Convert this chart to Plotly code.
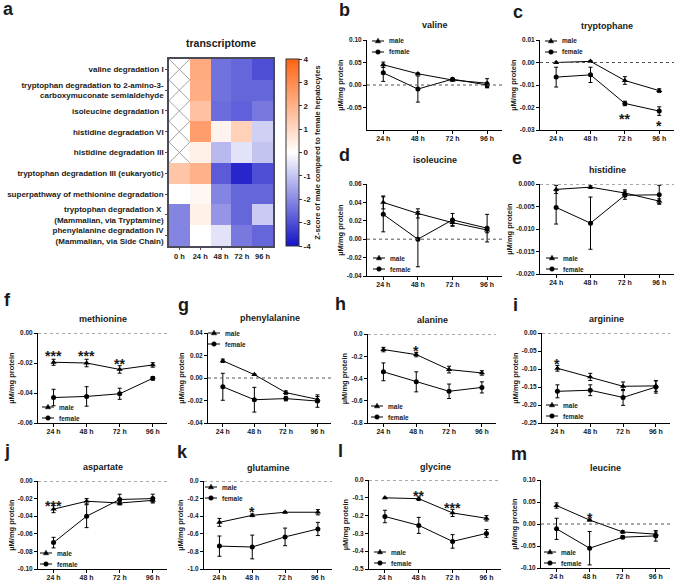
import plotly.graph_objects as go

W, H = 676, 580

# ---------------- data ----------------
time_labels = ["24 h", "48 h", "72 h", "96 h"]

heat_times = ["0 h", "24 h", "48 h", "72 h", "96 h"]
heat_pathways = [
    "valine degradation I",
    "tryptophan degradation to 2-amino-3-<br>carboxymuconate semialdehyde",
    "isoleucine degradation I",
    "histidine degradation VI",
    "histidine degradation III",
    "tryptophan degradation III (eukaryotic)",
    "superpathway of methionine degradation",
    "tryptophan degradation X <br>(Mammalian, via Tryptamine)",
    "phenylalanine degradation IV<br>(Mammalian, via Side Chain)",
]
heat_z = [
    [None, 2.2, -2.4, -2.6, -3.0],
    [None, 2.1, -2.4, -2.6, -2.6],
    [None, 1.6, -2.5, -2.7, -2.3],
    [None, 2.5, 0.3, 1.2, -0.8],
    [None, 0.4, -1.2, -0.5, -1.0],
    [1.5, 2.0, -2.8, -3.7, -3.0],
    [0.0, 0.2, -2.1, -2.6, -2.6],
    [-2.1, 0.4, -1.8, -2.6, -0.9],
    [-2.1, 0.0, -0.5, -2.3, -2.6],
]
heat_ticks = [-4, -3, -2, -1, 0, 1, 2, 3, 4]

valine_male = [0.045, 0.025, 0.011, 0.004]
valine_male_sd = [0.006, 0.002, 0.002, 0.010]
valine_female = [0.027, -0.009, 0.013, 0.000]
valine_female_sd = [0.019, 0.029, 0.002, 0.006]
valine_ticks = [-0.05, 0.00, 0.05, 0.10]
valine_stars = []

tryptophane_male = [0.0000, 0.0005, -0.0080, -0.0125]
tryptophane_male_sd = [0.0002, 0.0003, 0.0017, 0.0008]
tryptophane_female = [-0.0065, -0.0055, -0.0182, -0.0216]
tryptophane_female_sd = [0.0044, 0.0034, 0.0010, 0.0019]
tryptophane_ticks = [-0.03, -0.02, -0.01, 0.00, 0.01]
tryptophane_stars = [("**", 2, -0.0236), ("*", 3, -0.0270)]

isoleucine_male = [0.040, 0.028, 0.018, 0.010]
isoleucine_male_sd = [0.007, 0.005, 0.003, 0.003]
isoleucine_female = [0.027, 0.000, 0.021, 0.012]
isoleucine_female_sd = [0.019, 0.030, 0.007, 0.015]
isoleucine_ticks = [-0.04, -0.02, 0.00, 0.02, 0.04, 0.06]
isoleucine_stars = []

histidine_male = [-0.0012, -0.0007, -0.0020, -0.0038]
histidine_male_sd = [0.0009, 0.0003, 0.0007, 0.0005]
histidine_female = [-0.0052, -0.0087, -0.0025, -0.0024]
histidine_female_sd = [0.0037, 0.0058, 0.0009, 0.0021]
histidine_ticks = [-0.020, -0.015, -0.010, -0.005, 0.000]
histidine_stars = []

methionine_male = [-0.0195, -0.0200, -0.0243, -0.0213]
methionine_male_sd = [0.0020, 0.0025, 0.0025, 0.0015]
methionine_female = [-0.0430, -0.0423, -0.0405, -0.0302]
methionine_female_sd = [0.0055, 0.0065, 0.0037, 0.0012]
methionine_ticks = [-0.06, -0.04, -0.02, 0.00]
methionine_stars = [("***", 0, -0.0133), ("***", 1, -0.0133), ("**", 2, -0.0187)]

phenylalanine_male = [0.0153, 0.0030, -0.0130, -0.0190]
phenylalanine_male_sd = [0.0015, 0.0005, 0.0015, 0.0025]
phenylalanine_female = [-0.0078, -0.0193, -0.0183, -0.0205]
phenylalanine_female_sd = [0.0120, 0.0110, 0.0020, 0.0055]
phenylalanine_ticks = [-0.04, -0.02, 0.00, 0.02, 0.04]
phenylalanine_stars = []

alanine_male = [-0.140, -0.185, -0.320, -0.350]
alanine_male_sd = [0.020, 0.020, 0.030, 0.020]
alanine_female = [-0.340, -0.430, -0.515, -0.480]
alanine_female_sd = [0.080, 0.090, 0.065, 0.050]
alanine_ticks = [-0.8, -0.6, -0.4, -0.2, 0.0]
alanine_stars = [("*", 1, -0.129)]

arginine_male = [-0.098, -0.122, -0.148, -0.147]
arginine_male_sd = [0.008, 0.010, 0.012, 0.015]
arginine_female = [-0.162, -0.159, -0.179, -0.150]
arginine_female_sd = [0.018, 0.015, 0.022, 0.017]
arginine_ticks = [-0.25, -0.20, -0.15, -0.10, -0.05, 0.00]
arginine_stars = [("*", 0, -0.077)]

aspartate_male = [-0.032, -0.023, -0.025, -0.022]
aspartate_male_sd = [0.004, 0.003, 0.002, 0.002]
aspartate_female = [-0.070, -0.040, -0.021, -0.020]
aspartate_female_sd = [0.006, 0.013, 0.006, 0.005]
aspartate_ticks = [-0.10, -0.08, -0.06, -0.04, -0.02, 0.00]
aspartate_stars = [("***", 0, -0.0247)]

glutamine_male = [-0.470, -0.390, -0.355, -0.355]
glutamine_male_sd = [0.045, 0.015, 0.010, 0.030]
glutamine_female = [-0.740, -0.750, -0.635, -0.545]
glutamine_female_sd = [0.115, 0.135, 0.100, 0.075]
glutamine_ticks = [-1.0, -0.8, -0.6, -0.4, -0.2, 0.0]
glutamine_stars = [("*", 1, -0.320)]

glycine_male = [-0.100, -0.105, -0.185, -0.215]
glycine_male_sd = [0.003, 0.010, 0.020, 0.015]
glycine_female = [-0.205, -0.255, -0.345, -0.300]
glycine_female_sd = [0.035, 0.045, 0.038, 0.022]
glycine_ticks = [-0.5, -0.4, -0.3, -0.2, -0.1, 0.0]
glycine_stars = [("**", 1, -0.074), ("***", 2, -0.139)]

leucine_male = [0.042, 0.009, -0.018, -0.023]
leucine_male_sd = [0.006, 0.002, 0.003, 0.005]
leucine_female = [-0.011, -0.055, -0.030, -0.027]
leucine_female_sd = [0.024, 0.038, 0.003, 0.012]
leucine_ticks = [-0.10, -0.05, 0.00, 0.05, 0.10]
leucine_stars = [("*", 1, 0.021)]

# ---------------- layout helpers ----------------
FONT = "Liberation Sans, Arial, Helvetica, sans-serif"
TXT = "#1a1a1a"


def X(px):
    return px / W


def Y(py):
    return 1 - py / H


def fmt(v, d):
    s = f"{v:.{d}f}"
    if s.startswith("-") and float(s) == 0:
        s = s[1:]
    return s


# panel: letter, title, data, ticks, stars, decimals, range, box(x0,x1,ytop,ybot), title y, letter pos, legend pos
panels = [
    dict(letter="b", title="valine", m=valine_male, msd=valine_male_sd, f=valine_female, fsd=valine_female_sd,
         ticks=valine_ticks, stars=valine_stars, dec=2, rng=[-0.10, 0.10], box=(367, 502, 40, 130),
         ty=25, lp=(344, 10), leg=(372, 41)),
    dict(letter="c", title="tryptophane", m=tryptophane_male, msd=tryptophane_male_sd, f=tryptophane_female,
         fsd=tryptophane_female_sd, ticks=tryptophane_ticks, stars=tryptophane_stars, dec=2, rng=[-0.03, 0.01],
         box=(540, 674, 40, 130), ty=26, lp=(518, 12), leg=(545, 41)),
    dict(letter="d", title="isoleucine", m=isoleucine_male, msd=isoleucine_male_sd, f=isoleucine_female,
         fsd=isoleucine_female_sd, ticks=isoleucine_ticks, stars=isoleucine_stars, dec=2, rng=[-0.04, 0.06],
         box=(367, 502, 184, 276), ty=160, lp=(344, 155), leg=(373, 258)),
    dict(letter="e", title="histidine", m=histidine_male, msd=histidine_male_sd, f=histidine_female,
         fsd=histidine_female_sd, ticks=histidine_ticks, stars=histidine_stars, dec=3, rng=[-0.020, 0.000],
         box=(540, 674, 184, 274), ty=170, lp=(517, 158), leg=(546, 258)),
    dict(letter="f", title="methionine", m=methionine_male, msd=methionine_male_sd, f=methionine_female,
         fsd=methionine_female_sd, ticks=methionine_ticks, stars=methionine_stars, dec=2, rng=[-0.06, 0.00],
         box=(38, 167, 333, 423), ty=319, lp=(7, 300), leg=(42, 407)),
    dict(letter="g", title="phenylalanine", m=phenylalanine_male, msd=phenylalanine_male_sd, f=phenylalanine_female,
         fsd=phenylalanine_female_sd, ticks=phenylalanine_ticks, stars=phenylalanine_stars, dec=2,
         rng=[-0.04, 0.04], box=(208, 331, 333, 423), ty=318, lp=(183, 305), leg=(208, 333)),
    dict(letter="h", title="alanine", m=alanine_male, msd=alanine_male_sd, f=alanine_female, fsd=alanine_female_sd,
         ticks=alanine_ticks, stars=alanine_stars, dec=1, rng=[-0.8, 0.0], box=(368, 496, 334, 423),
         ty=320, lp=(340, 304), leg=(371, 406)),
    dict(letter="i", title="arginine", m=arginine_male, msd=arginine_male_sd, f=arginine_female,
         fsd=arginine_female_sd, ticks=arginine_ticks, stars=arginine_stars, dec=2, rng=[-0.25, 0.00],
         box=(542, 670, 333, 423), ty=319, lp=(515, 305), leg=(546, 405)),
    dict(letter="j", title="aspartate", m=aspartate_male, msd=aspartate_male_sd, f=aspartate_female,
         fsd=aspartate_female_sd, ticks=aspartate_ticks, stars=aspartate_stars, dec=2, rng=[-0.10, 0.00],
         box=(38, 167, 481, 569), ty=467, lp=(7, 451), leg=(40, 553)),
    dict(letter="k", title="glutamine", m=glutamine_male, msd=glutamine_male_sd, f=glutamine_female,
         fsd=glutamine_female_sd, ticks=glutamine_ticks, stars=glutamine_stars, dec=1, rng=[-1.0, 0.0],
         box=(204, 332, 481, 569), ty=468, lp=(182, 452), leg=(205, 487)),
    dict(letter="l", title="glycine", m=glycine_male, msd=glycine_male_sd, f=glycine_female, fsd=glycine_female_sd,
         ticks=glycine_ticks, stars=glycine_stars, dec=1, rng=[-0.5, 0.0], box=(369, 501, 480, 569),
         ty=467, lp=(340, 451), leg=(374, 552)),
    dict(letter="m", title="leucine", m=leucine_male, msd=leucine_male_sd, f=leucine_female, fsd=leucine_female_sd,
         ticks=leucine_ticks, stars=leucine_stars, dec=2, rng=[-0.10, 0.10], box=(541, 670, 480, 568),
         ty=468, lp=(519, 454), leg=(544, 552)),
]

fig = go.Figure()

# ---------------- heatmap (panel a) ----------------
fig.add_trace(go.Heatmap(
    z=heat_z, x=list(range(len(heat_times))), y=list(range(len(heat_pathways))),
    colorscale=[[0, "rgb(20,20,200)"], [0.5, "rgb(255,255,255)"], [1, "rgb(255,100,20)"]],
    zmin=-4, zmax=4, hoverongaps=False, xaxis="x", yaxis="y",
    colorbar=dict(
        x=X(286), xanchor="left", y=Y(59), yanchor="top", len=187 / H, lenmode="fraction",
        thickness=13, xpad=0, ypad=0, outlinewidth=1, outlinecolor="#333",
        tickvals=heat_ticks, ticktext=[str(t) for t in heat_ticks], ticks="outside", ticklen=3,
        tickcolor="#333", tickfont=dict(size=8, color=TXT),
        title=dict(text="Z-score of male compared to female hepatocytes", side="right",
                   font=dict(size=7.5, color=TXT)),
    ),
))
cx, cy = [], []
for r, row in enumerate(heat_z):
    for c, v in enumerate(row):
        if v is None:
            cx += [c - 0.5, c + 0.5, None, c - 0.5, c + 0.5, None]
            cy += [r - 0.5, r + 0.5, None, r + 0.5, r - 0.5, None]
fig.add_trace(go.Scatter(x=cx, y=cy, mode="lines", line=dict(color="#8a8a8a", width=0.8),
                         xaxis="x", yaxis="y", showlegend=False, hoverinfo="skip"))

layout_axes = dict(
    xaxis=dict(domain=[X(169), X(273)], range=[-0.5, len(heat_times) - 0.5], automargin=False,
               tickvals=list(range(len(heat_times))), ticktext=heat_times,
               showline=True, mirror=True, linecolor="#4a4a58", linewidth=1.5,
               ticks="outside", ticklen=2, tickcolor="#4a4a58", tickfont=dict(size=7.5, color=TXT),
               showgrid=False, zeroline=False, anchor="y"),
    yaxis=dict(domain=[Y(246), Y(59)], range=[len(heat_pathways) - 0.5, -0.5], automargin=False,
               tickvals=list(range(len(heat_pathways))), ticktext=heat_pathways,
               showline=True, mirror=True, linecolor="#4a4a58", linewidth=1.5,
               ticks="outside", ticklen=2, tickcolor="#4a4a58", tickfont=dict(size=8, color=TXT),
               showgrid=False, zeroline=False, anchor="x"),
)

annotations = [
    dict(text="a", x=X(8), y=Y(9), xref="paper", yref="paper", showarrow=False,
         font=dict(size=18, color=TXT), xanchor="center", yanchor="middle"),
    dict(text="transcriptome", x=X(221), y=Y(43), xref="paper", yref="paper", showarrow=False,
         font=dict(size=10.5, color=TXT), xanchor="center", yanchor="middle"),
]
shapes = []


def add_legend(lx, ly):
    for k, (lab, sym) in enumerate([("male", "tri"), ("female", "circ")]):
        yy = ly + k * 11
        shapes.append(dict(type="line", xref="paper", yref="paper", x0=X(lx), x1=X(lx + 12),
                           y0=Y(yy), y1=Y(yy), line=dict(color="black", width=1)))
        c = lx + 6
        if sym == "tri":
            path = (f"M{X(c - 2.6)},{Y(yy + 1.8)} L{X(c + 2.6)},{Y(yy + 1.8)} "
                    f"L{X(c)},{Y(yy - 2.8)} Z")
            shapes.append(dict(type="path", path=path, xref="paper", yref="paper",
                               fillcolor="black", line=dict(color="black", width=0.5)))
        else:
            shapes.append(dict(type="circle", xref="paper", yref="paper", x0=X(c - 2.3), x1=X(c + 2.3),
                               y0=Y(yy + 2.3), y1=Y(yy - 2.3), fillcolor="black",
                               line=dict(color="black", width=0.5)))
        annotations.append(dict(text=lab, x=X(lx + 15), y=Y(yy), xref="paper", yref="paper",
                                xanchor="left", yanchor="middle", showarrow=False,
                                font=dict(size=6.5, color=TXT)))


# ---------------- line panels ----------------
for n, p in enumerate(panels, start=2):
    xa, ya = f"x{n}", f"y{n}"
    x0, x1, yt, yb = p["box"]
    for vals, sd, sym, msize in [(p["m"], p["msd"], "triangle-up", 5.5), (p["f"], p["fsd"], "circle", 5)]:
        fig.add_trace(go.Scatter(
            x=time_labels, y=vals, mode="lines+markers", xaxis=xa, yaxis=ya, showlegend=False,
            line=dict(color="black", width=1),
            marker=dict(symbol=sym, size=msize, color="black"),
            error_y=dict(type="data", array=sd, color="black", thickness=1, width=2),
        ))
    layout_axes[f"xaxis{n}"] = dict(
        domain=[X(x0), X(x1)], type="category", range=[-0.47, 3.43], automargin=False,
        showline=True, linecolor="black", linewidth=1, ticks="outside", ticklen=3, tickwidth=1,
        tickcolor="black", tickfont=dict(size=7, color=TXT), showgrid=False, zeroline=False, anchor=ya,
        ticklabelstandoff=-1)
    layout_axes[f"yaxis{n}"] = dict(
        domain=[Y(yb), Y(yt)], range=p["rng"], tickvals=p["ticks"], automargin=False,
        ticktext=[fmt(t, p["dec"]) for t in p["ticks"]],
        showline=True, linecolor="black", linewidth=1, ticks="outside", ticklen=3, tickwidth=1,
        tickcolor="black", tickfont=dict(size=6.5, color=TXT), showgrid=False, zeroline=False, anchor=xa,
        title=dict(text="µM/mg protein", font=dict(size=7.5, color=TXT), standoff=2))
    shapes.append(dict(type="line", xref=f"{xa} domain", x0=0, x1=1, yref=ya, y0=0, y1=0,
                       line=dict(color="#555", width=1, dash="dot")))
    annotations.append(dict(text=p["title"], x=X((x0 + x1) / 2), y=Y(p["ty"]), xref="paper", yref="paper",
                            showarrow=False, font=dict(size=9, color=TXT), xanchor="center",
                            yanchor="middle"))
    annotations.append(dict(text=p["letter"], x=X(p["lp"][0]), y=Y(p["lp"][1]), xref="paper", yref="paper",
                            showarrow=False, font=dict(size=18, color=TXT), xanchor="center",
                            yanchor="middle"))
    for txt, idx, yv in p["stars"]:
        annotations.append(dict(text=txt, x=time_labels[idx], y=yv, xref=xa, yref=ya, showarrow=False,
                                font=dict(size=14, color=TXT), xanchor="center", yanchor="middle",
                                yshift=-3))
    add_legend(*p["leg"])

fig.update_layout(
    width=W, height=H, margin=dict(l=0, r=0, t=0, b=0, autoexpand=False),
    paper_bgcolor="white", plot_bgcolor="white",
    font=dict(family=FONT, color=TXT, weight="bold"),
    showlegend=False, annotations=annotations, shapes=shapes,
    **layout_axes,
)

fig.write_html("out.html", config={"displayModeBar": False},
               post_script="document.body.style.margin='0';")
